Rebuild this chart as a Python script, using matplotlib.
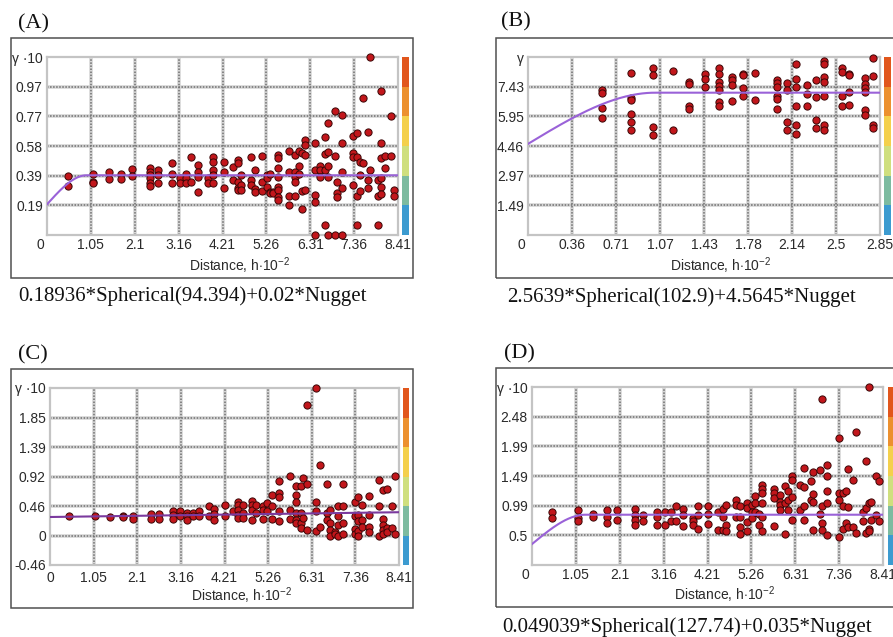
import numpy as np
import matplotlib
matplotlib.use('Agg')
import matplotlib.pyplot as plt
from matplotlib.patches import Rectangle
import matplotlib.transforms as mtransforms

plt.rcParams['font.family'] = ['Liberation Sans', 'DejaVu Sans']
plt.rcParams['mathtext.fontset'] = 'custom'
plt.rcParams['mathtext.rm'] = 'Liberation Sans'
plt.rcParams['mathtext.it'] = 'Liberation Sans:italic'

W, H = 893, 637

# ---- (A) semivariogram, lag h*10^-2 and gamma*10
a_lags = [0.50, 1.10, 1.48, 1.78, 2.04, 2.46, 2.66, 3.00, 3.18, 3.34, 3.46, 3.62, 3.86, 3.98,
          4.24, 4.46, 4.57, 4.66, 4.88, 4.98, 5.16, 5.26, 5.34, 5.42, 5.53, 5.81, 5.94, 6.04,
          6.10, 6.18, 6.42, 6.53, 6.66, 6.73, 6.89, 6.96, 7.06, 7.34, 7.42, 7.50, 7.57, 7.69,
          7.74, 7.93, 8.01, 8.10, 8.25, 8.32]
a_vals = [[0.386, 0.321], [0.397, 0.347, 0.336], [0.412, 0.362], [0.401, 0.362], [0.43, 0.384],
          [0.438, 0.412, 0.391, 0.369, 0.341, 0.321], [0.423, 0.391, 0.341], [0.471, 0.401, 0.341],
          [0.375, 0.341], [0.401, 0.369, 0.341], [0.506, 0.347], [0.456, 0.412, 0.38, 0.282],
          [0.369, 0.336], [0.506, 0.477, 0.423, 0.391, 0.336], [0.477, 0.412, 0.304], [0.445, 0.358],
          [0.488, 0.471, 0.347, 0.308, 0.293], [0.391, 0.326, 0.293], [0.506, 0.358, 0.326],
          [0.423, 0.297, 0.282], [0.514, 0.347, 0.289], [0.391, 0.369, 0.315], [0.401, 0.282, 0.271],
          [0.282, 0.276], [0.521, 0.499, 0.44, 0.38, 0.315, 0.293, 0.25, 0.228],
          [0.547, 0.412, 0.254, 0.195], [0.521, 0.412, 0.38, 0.347, 0.254], [0.547, 0.449, 0.397],
          [0.536, 0.289, 0.167], [0.618, 0.586, 0.521, 0.293], [0.597, 0.423, 0.26, 0.217, 0.0],
          [0.449, 0.423, 0.38], [0.636, 0.527, 0.423, 0.065], [0.731, 0.543, 0.449, 0.38, 0.0],
          [0.807, 0.514, 0.0], [0.347, 0.271, 0.245], [0.781, 0.597, 0.412, 0.304, 0.0],
          [0.645, 0.532, 0.51, 0.326], [0.666, 0.51, 0.254, 0.065], [0.477, 0.391, 0.289],
          [0.894, 0.471], [0.673, 0.358, 0.304], [1.161, 0.423], [0.358, 0.254, 0.065],
          [0.94, 0.597, 0.499, 0.373, 0.315, 0.265], [0.516, 0.44], [0.775, 0.516], [0.293, 0.254]]

# ---- (B)
b_lags = [0.60, 0.83, 1.01, 1.17, 1.30, 1.43, 1.55, 1.65, 1.74, 1.84, 2.02, 2.10, 2.17, 2.26,
          2.33, 2.40, 2.54, 2.60, 2.73, 2.79]
b_vals = [[7.28, 7.13, 6.38, 5.88], [8.13, 6.88, 6.75, 6.08, 5.67, 5.25], [8.38, 8.00, 5.42, 5.03],
          [8.20, 5.25], [7.67, 7.58, 6.45, 6.33], [8.08, 7.80, 7.42],
          [8.38, 8.05, 7.67, 7.45, 7.25, 6.67, 6.45], [7.92, 7.75, 7.50, 6.72],
          [8.08, 8.00, 7.37, 6.97], [8.13, 6.78], [7.78, 7.62, 7.42, 6.97, 6.80, 6.33],
          [7.62, 7.25, 5.67, 5.25], [8.58, 7.80, 7.42, 6.45, 5.50, 5.08], [7.53, 7.05, 6.45],
          [7.75, 6.92, 5.75, 5.37], [8.70, 8.55, 7.92, 7.67, 6.97, 5.50, 5.25],
          [8.38, 8.17, 6.97, 6.45], [8.05, 8.00, 7.17, 6.50], [7.88, 7.58, 7.38, 7.17, 6.25, 6.00],
          [8.88, 7.95, 5.50, 5.37]]

# ---- (C)
c_lags = [0.46, 1.08, 1.45, 1.77, 2.01, 2.43, 2.63, 2.96, 3.13, 3.31, 3.44, 3.59, 3.84, 3.96,
          4.22, 4.42, 4.54, 4.66, 4.86, 4.96, 5.14, 5.22, 5.34, 5.52, 5.78, 5.94, 6.06, 6.10,
          6.20, 6.41, 6.51, 6.67, 6.75, 6.87, 6.95, 7.07, 7.35, 7.43, 7.51, 7.69, 7.94, 8.03,
          8.11, 8.23, 8.31]
c_vals = [[0.31], [0.31], [0.29], [0.30, 0.29], [0.30, 0.26], [0.34, 0.26], [0.34, 0.26],
          [0.38, 0.32, 0.26], [0.38, 0.30], [0.36, 0.30, 0.25], [0.36, 0.31], [0.38, 0.30],
          [0.46, 0.30], [0.42, 0.34, 0.24], [0.48, 0.30], [0.38], [0.53, 0.48, 0.40, 0.32, 0.27],
          [0.48, 0.36, 0.27], [0.54, 0.48, 0.40, 0.24], [0.48, 0.36], [0.47, 0.40, 0.26],
          [0.51, 0.38], [0.63, 0.46, 0.26], [0.85, 0.66, 0.61, 0.38, 0.22], [0.93, 0.40, 0.26],
          [0.78, 0.64, 0.52, 0.36, 0.24, 0.19], [0.77, 0.35, 0.19, 0.12], [0.90, 0.28],
          [2.05, 0.81, 0.09], [2.31, 0.53, 0.38, 0.07], [1.11, 0.14], [0.81, 0.36, 0.25],
          [0.40, 0.19, 0.09, 0.0], [0.06, 0.03], [0.46, 0.30, 0.17, 0.0], [0.81, 0.46, 0.19, 0.03],
          [0.53, 0.30, 0.10, 0.03], [0.61, 0.32, 0.22, 0.07, 0.0], [0.48, 0.25, 0.14],
          [0.62, 0.32, 0.14, 0.05], [0.87, 0.47, 0.0], [0.72, 0.26, 0.17, 0.09, 0.03],
          [0.73, 0.12, 0.06], [0.47, 0.12], [0.94, 0.03]]

# ---- (D)
d_lags = [0.49, 1.11, 1.47, 1.79, 2.04, 2.47, 2.67, 3.00, 3.18, 3.33, 3.46, 3.61, 3.86, 3.98,
          4.22, 4.45, 4.58, 4.66, 4.88, 4.98, 5.16, 5.26, 5.34, 5.44, 5.52, 5.80, 5.94, 6.06,
          6.14, 6.22, 6.42, 6.52, 6.68, 6.74, 6.90, 6.96, 7.08, 7.35, 7.44, 7.52, 7.57, 7.69,
          7.76, 7.93, 8.00, 8.08, 8.13, 8.25, 8.32]
d_vals = [[0.88, 0.78], [0.92, 0.78, 0.73], [0.86, 0.80], [0.92, 0.81, 0.71], [0.92, 0.76],
          [0.93, 0.84, 0.75, 0.67], [0.84, 0.73], [0.89, 0.80, 0.67], [0.88, 0.67], [0.88, 0.73],
          [0.99, 0.73], [0.93, 0.84, 0.65], [0.78, 0.73, 0.67], [0.99, 0.84, 0.61],
          [0.99, 0.86, 0.69], [0.88, 0.59], [0.93, 0.81, 0.59], [1.00, 0.67, 0.56],
          [1.09, 1.00, 0.81], [0.98, 0.81, 0.64, 0.52], [1.04, 0.95, 0.72, 0.57], [1.00, 0.89, 0.78],
          [1.16, 1.03, 0.88], [0.86, 0.67], [1.34, 1.27, 1.20, 1.03, 0.81, 0.56],
          [1.27, 1.20, 1.12, 0.65], [1.17, 1.06, 1.00, 0.92], [1.32, 1.03, 0.52], [1.23, 1.09, 0.92],
          [1.48, 1.42, 1.14, 0.76], [1.34, 0.92], [1.62, 1.31, 0.99, 0.75], [1.40, 1.09],
          [1.56, 1.18, 1.06, 0.59], [1.58, 0.86], [2.77, 0.98, 0.70, 0.59],
          [1.67, 1.48, 1.23, 1.03, 0.50], [2.12, 1.20, 1.09, 0.47], [1.21, 0.98, 0.61], [1.23, 0.70],
          [1.60, 0.97, 0.63], [1.42, 0.64], [2.22, 0.53], [0.88, 0.73], [1.73, 0.95, 0.54],
          [2.97, 1.03, 0.61, 0.56], [1.06, 0.76], [1.48, 0.84], [1.40, 0.73]]

# axis tick labels
x_lab_841 = ['0', '1.05', '2.1', '3.16', '4.21', '5.26', '6.31', '7.36', '8.41']
x_lab_285 = ['0', '0.36', '0.71', '1.07', '1.43', '1.78', '2.14', '2.5', '2.85']
a_ylab = ['', '0.19', '0.39', '0.58', '0.77', '0.97', 'γ ·10']
b_ylab = ['', '1.49', '2.97', '4.46', '5.95', '7.43', 'γ']
c_ylab = ['-0.46', '0', '0.46', '0.92', '1.39', '1.85', 'γ ·10']
d_ylab = ['', '0.5', '0.99', '1.49', '1.99', '2.48', 'γ ·10']

# fitted models (nugget, partial sill, range)
a_model = (0.2, 0.18936, 0.94394)
b_model = (4.5645, 2.5639, 1.029)
d_model = (0.35, 0.49039, 1.2774)
c_trend = (0.29, 0.365)

eq_a = '0.18936*Spherical(94.394)+0.02*Nugget'
eq_b = '2.5639*Spherical(102.9)+4.5645*Nugget'
eq_d = '0.049039*Spherical(127.74)+0.035*Nugget'

cb_colors = ['#3c9bd0', '#7dbba0', '#cfdf7e', '#f4d04c', '#ec902e', '#e1561c']


def sph(h, c0, c, a):
    r = np.minimum(h / a, 1.0)
    return c0 + c * (1.5 * r - 0.5 * r ** 3)


def px_axes(fig, x0, y0, x1, y1):
    return fig.add_axes([x0 / W, 1 - y1 / H, (x1 - x0) / W, (y1 - y0) / H])


def panel(fig, box, area, cbx, lags, vals, xmax, ybot, ytop, xlab, ylab, lx, ly,
          lcolor, zero_shift, xpad):
    bx0, by0, bx1, by1 = box
    fig.add_artist(Rectangle((bx0 / W, 1 - by1 / H), (bx1 - bx0) / W, (by1 - by0) / H,
                             transform=fig.transFigure, fill=False, ec='#505050', lw=1.1))
    x0, y0, x1, y1 = area
    ax = px_axes(fig, x0, y0, x1, y1)
    ax.set_xlim(0, xmax)
    ax.set_ylim(ybot, ytop)
    xt = np.linspace(0, xmax, 9)
    yt = np.linspace(ybot, ytop, 7)
    ax.set_xticks(xt)
    ax.set_xticklabels(xlab)
    ax.set_yticks(yt)
    ax.set_yticklabels(ylab)
    ax.tick_params(length=0, labelsize=10, labelcolor='#2a2a2a')
    ax.tick_params(axis='x', pad=xpad)
    ax.tick_params(axis='y', pad=3)
    if zero_shift:
        lbl = ax.get_xticklabels()[0]
        lbl.set_transform(lbl.get_transform() +
                          mtransforms.ScaledTranslation(-7 / 100, 0, fig.dpi_scale_trans))
    for s in ax.spines.values():
        s.set_color('#c4c4c4')
        s.set_linewidth(1.6)
    for v in xt[1:-1]:
        ax.axvline(v, color='#d6d6d6', lw=2.6, zorder=1)
        ax.axvline(v, color='#6e6e6e', lw=1.1, ls=(0, (1, 1)), zorder=1.5)
    for v in yt[1:-1]:
        ax.axhline(v, color='#d6d6d6', lw=2.6, zorder=1)
        ax.axhline(v, color='#6e6e6e', lw=1.1, ls=(0, (1, 1)), zorder=1.5)

    h = np.repeat(lags, [len(v) for v in vals])
    g = np.concatenate(vals)
    ax.scatter(h, g, s=27, c='#c2161b', edgecolors='#3a0707', linewidths=0.7,
               zorder=3, clip_on=False)
    ax.plot(lx, ly, color=lcolor, lw=1.5, zorder=4)

    cax = px_axes(fig, cbx[0], y0, cbx[1], y1)
    cax.bar(np.zeros(6), np.ones(6), bottom=np.arange(6), width=1, color=cb_colors)
    cax.set_xlim(-0.5, 0.5)
    cax.set_ylim(0, 6)
    cax.axis('off')

    fig.text(((x0 + x1) / 2 + 17) / W, 1 - (by1 - 12) / H, 'Distance, h$\\cdot$10$^{-2}$',
             ha='center', va='center', fontsize=10, color='#2a2a2a')
    return ax


fig = plt.figure(figsize=(W / 100, H / 100), dpi=100)

hx = np.linspace(0, 8.41, 300)
hb = np.linspace(0, 2.85, 300)

panel(fig, (11, 38, 413, 278), (47, 57, 398, 235), (402, 409), a_lags, a_vals, 8.41,
      0, 1.161, x_lab_841, a_ylab, hx, sph(hx, *a_model), '#9a62d8', True, 2.5)
panel(fig, (496, 38, 900, 278), (528, 57, 880, 235), (884, 891), b_lags, b_vals, 2.85,
      0, 8.916, x_lab_285, b_ylab, hb, sph(hb, *b_model), '#9a62d8', True, 2.5)
panel(fig, (11, 369, 413, 608), (50, 388, 399, 565), (403, 409), c_lags, c_vals, 8.41,
      -0.4625, 2.3125, x_lab_841, c_ylab, hx, np.linspace(c_trend[0], c_trend[1], hx.size),
      '#7b3a9e', False, 4)
panel(fig, (496, 368, 900, 607), (532, 387, 883, 565), (888, 895), d_lags, d_vals, 8.41,
      0, 2.975, x_lab_841, d_ylab, hx, sph(hx, *d_model), '#9a62d8', True, 2.5)

serif = dict(family=['Liberation Serif', 'DejaVu Serif'], color='#111111', va='center', ha='left')
fig.text(18 / W, 1 - 24 / H, '(A)', fontsize=16, **serif)
fig.text(501 / W, 1 - 22 / H, '(B)', fontsize=16, **serif)
fig.text(18 / W, 1 - 355 / H, '(C)', fontsize=16, **serif)
fig.text(504 / W, 1 - 354 / H, '(D)', fontsize=16, **serif)
fig.text(18 / W, 1 - 296 / H, eq_a, fontsize=15, **serif)
fig.text(507 / W, 1 - 297 / H, eq_b, fontsize=15, **serif)
fig.text(502 / W, 1 - 627 / H, eq_d, fontsize=15, **serif)

fig.savefig('out.png', dpi=100, facecolor='white')
